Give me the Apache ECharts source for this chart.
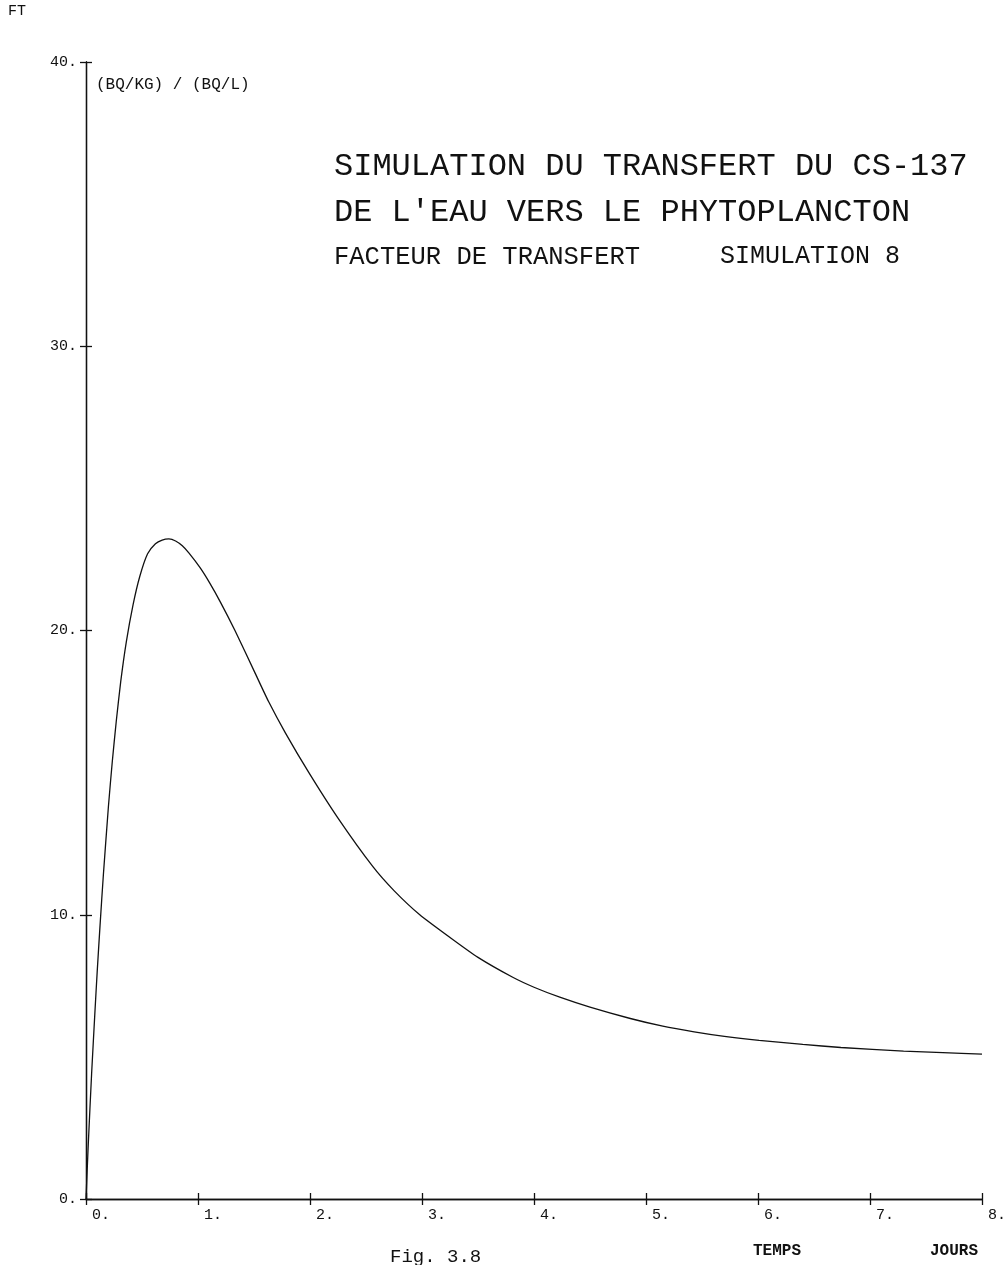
<!DOCTYPE html>
<html>
<head>
<meta charset="utf-8">
<script src="https://cdn.jsdelivr.net/npm/echarts@6/dist/echarts.min.js"></script>
<style>
html,body{margin:0;padding:0;background:#fff;}
#chart{width:1007px;height:1265px;}
</style>
</head>
<body>
<div id="chart"></div>
<script>
// ---- data ----
const titleLines = ['SIMULATION DU TRANSFERT DU CS-137', "DE L'EAU VERS LE PHYTOPLANCTON"];
const subtitleLeft = 'FACTEUR DE TRANSFERT';
const subtitleRight = 'SIMULATION 8';
const yName = 'FT';
const yUnit = '(BQ/KG) / (BQ/L)';
const xName1 = 'TEMPS';
const xName2 = 'JOURS';
const caption = 'Fig. 3.8';

const xMin = 0, xMax = 8, xStep = 1;
const yMin = 0, yMax = 40, yStep = 10;

const timeDays = [0, 0.02, 0.05, 0.08, 0.10, 0.125, 0.155, 0.20, 0.235, 0.27, 0.31, 0.36, 0.42, 0.48, 0.55, 0.62, 0.68, 0.74, 0.80, 0.86, 0.92, 1.02, 1.10, 1.20, 1.33, 1.51, 1.63, 1.78, 1.99, 2.25, 2.56, 2.75, 2.98, 3.25, 3.50, 3.81, 4.00, 4.23, 4.50, 4.86, 5.15, 5.43, 5.70, 6.01, 6.40, 6.74, 7.30, 7.65, 8.00];
const ftValues = [0, 1.9, 4.4, 6.6, 8.0, 9.6, 11.4, 13.8, 15.4, 16.8, 18.2, 19.6, 20.9, 21.9, 22.7, 23.05, 23.18, 23.22, 23.15, 22.98, 22.72, 22.2, 21.7, 21.0, 20.0, 18.5, 17.5, 16.4, 15.0, 13.4, 11.7, 10.85, 10.0, 9.2, 8.5, 7.8, 7.45, 7.1, 6.75, 6.35, 6.08, 5.88, 5.72, 5.58, 5.44, 5.33, 5.2, 5.15, 5.1];

const seriesData = timeDays.map((t, i) => [t, ftValues[i]]);

const MONO = '"Liberation Mono", "DejaVu Sans Mono", monospace';
const INK = '#111';

const chart = echarts.init(document.getElementById('chart'), null, {renderer: 'canvas'});

const axisLineStyle = {color: INK, width: 1.3};
const fmt = v => v + '.';
const gridBox = {left: 86, top: 62, width: 896, height: 1137, containLabel: false, outerBoundsMode: 'none'};

const option = {
  backgroundColor: '#fff',
  animation: false,
  grid: [Object.assign({}, gridBox), Object.assign({}, gridBox)],
  xAxis: [
    {
      gridIndex: 0, type: 'value', min: xMin, max: xMax, interval: xStep, position: 'bottom',
      axisLine: {show: true, onZero: false, lineStyle: axisLineStyle},
      axisTick: {show: true, length: 6, lineStyle: axisLineStyle},
      axisLabel: {show: true, formatter: fmt, align: 'left', padding: [0, 0, 0, 6], margin: 9,
                  fontFamily: MONO, fontSize: 15, color: INK, hideOverlap: false},
      splitLine: {show: false}
    },
    {
      gridIndex: 1, type: 'value', min: xMin, max: xMax, interval: xStep, position: 'bottom',
      axisLine: {show: true, onZero: false, lineStyle: axisLineStyle},
      axisTick: {show: true, inside: true, length: 6, lineStyle: axisLineStyle},
      axisLabel: {show: false},
      splitLine: {show: false}
    }
  ],
  yAxis: [
    {
      gridIndex: 0, type: 'value', min: yMin, max: yMax, interval: yStep, position: 'left',
      axisLine: {show: true, onZero: false, lineStyle: axisLineStyle},
      axisTick: {show: true, length: 6, lineStyle: axisLineStyle},
      axisLabel: {show: true, formatter: fmt, margin: 9, padding: [0, 0, 8, 0],
                  fontFamily: MONO, fontSize: 15, color: INK},
      splitLine: {show: false}
    },
    {
      gridIndex: 1, type: 'value', min: yMin, max: yMax, interval: yStep, position: 'left',
      axisLine: {show: true, onZero: false, lineStyle: axisLineStyle},
      axisTick: {show: true, inside: true, length: 6, lineStyle: axisLineStyle},
      axisLabel: {show: false},
      splitLine: {show: false}
    }
  ],
  series: [{
    type: 'line',
    xAxisIndex: 0, yAxisIndex: 0,
    data: seriesData,
    smooth: 0.2,
    showSymbol: false,
    lineStyle: {color: INK, width: 1.3},
    silent: true
  }],
  graphic: [
    {type: 'text', left: 8, top: 4, style: {text: yName, font: '15px ' + MONO, fill: INK}},
    {type: 'text', left: 96, top: 77, style: {text: yUnit, font: '16px ' + MONO, fill: INK}},
    {type: 'text', left: 334, top: 151, style: {text: titleLines[0], font: '32px ' + MONO, fill: INK}},
    {type: 'text', left: 334, top: 197, style: {text: titleLines[1], font: '32px ' + MONO, fill: INK}},
    {type: 'text', left: 334, top: 244, style: {text: subtitleLeft, font: '25.5px ' + MONO, fill: INK}},
    {type: 'text', left: 720, top: 244, style: {text: subtitleRight, font: '25px ' + MONO, fill: INK}},
    {type: 'text', left: 753, top: 1243, style: {text: xName1, font: 'bold 16px ' + MONO, fill: INK}},
    {type: 'text', left: 930, top: 1243, style: {text: xName2, font: 'bold 16px ' + MONO, fill: INK}},
    {type: 'text', left: 390, top: 1247, style: {text: caption, font: '19px ' + MONO, fill: INK}}
  ]
};
chart.setOption(option);
</script>
</body>
</html>
